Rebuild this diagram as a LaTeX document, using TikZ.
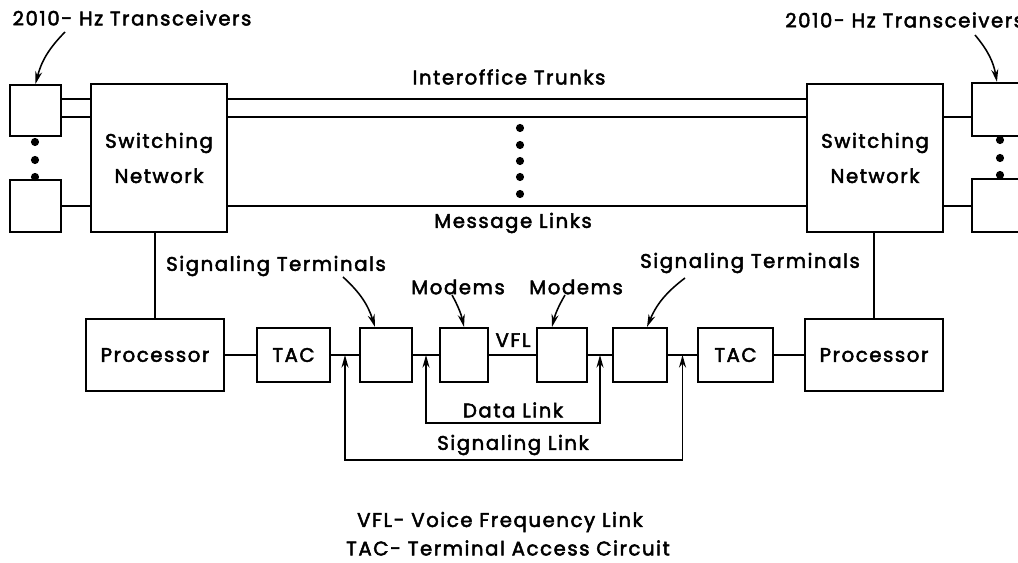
\documentclass[tikz,border=0pt]{standalone}
\usepackage{fontspec}
\setmainfont{Poppins}[LetterSpace=8,FakeBold=2.5]
\usetikzlibrary{arrows.meta,calc}

\tikzset{
  blk/.style={draw,line width=1.5pt,inner sep=0pt,align=center,font=\fontsize{14}{16}\selectfont},
  sz/.style 2 args={minimum width=#1*0.025cm,minimum height=#2*0.025cm},
  wire/.style={line width=1.5pt},
  thinwire/.style={line width=1.1pt},
  ptr/.style={line width=1.1pt,-{Stealth[length=9pt,width=5pt]}},
  lbl/.style={font=\fontsize{14}{16}\selectfont,inner sep=0pt},
  blob/.style={circle,fill,inner sep=0pt,minimum size=5.8pt}
}

\begin{document}
\begin{tikzpicture}[x=0.025cm,y=-0.025cm]
  \useasboundingbox (0,0) rectangle (1018,563);

  % transceivers and switching networks
  \node[blk,sz={51}{51}] (txL1) at (35.5,110.5) {};
  \node[blk,sz={51}{52}] (txL2) at (35.5,206) {};
  \node[blk,sz={58}{53}] (txR1) at (1001,109.5) {};
  \node[blk,sz={58}{53}] (txR2) at (1001,205.5) {};
  \node[blk,sz={136}{148},font=\fontsize{14}{25}\selectfont] (swL) at (159,158) {Switching\\Network};
  \node[blk,sz={136}{148},font=\fontsize{14}{25}\selectfont] (swR) at (875,158) {Switching\\Network};

  \foreach \y [count=\i] in {142,160,177}{
    \node[blob] (dl\i) at (35,\y) {};
  }
  \foreach \y [count=\i] in {140,158,175}{
    \node[blob] (dr\i) at (1000,\y) {};
  }
  \foreach \y [count=\i] in {128,145,161,177,194}{
    \node[blob] (dm\i) at (520,\y) {};
  }

  \draw[wire] (txL1.east |- 0,99) -- (swL.west |- 0,99);
  \draw[wire] (txL1.east |- 0,117) -- (swL.west |- 0,117);
  \draw[wire] (txL2.east |- 0,206) -- (swL.west |- 0,206);
  \foreach \y in {99,117,206}
    \draw[wire] (swL.east |- 0,\y) -- (swR.west |- 0,\y);
  \draw[wire] (swR.east |- 0,117) -- (txR1.west |- 0,117);
  \draw[wire] (swR.east |- 0,206) -- (txR2.west |- 0,206);

  \node[lbl] (trunks) at (509,77) {Interoffice Trunks};
  \node[lbl] (msglinks) at (513,223) {Message Links};

  % signaling chain
  \node[blk,sz={138}{72}] (procL) at (155,355) {Processor};
  \node[blk,sz={73}{54}] (tacL) at (293.5,355) {TAC};
  \node[blk,sz={52}{54}] (stL) at (386,355) {};
  \node[blk,sz={48}{54}] (mdL) at (464,355) {};
  \node[blk,sz={50}{54}] (mdR) at (562,355) {};
  \node[blk,sz={54}{54}] (stR) at (640,355) {};
  \node[blk,sz={75}{54}] (tacR) at (735.5,355) {TAC};
  \node[blk,sz={138}{72}] (procR) at (874,355) {Processor};

  \draw[thinwire] (swL.south -| procL.north) -- (procL.north);
  \draw[thinwire] (swR.south -| procR.north) -- (procR.north);

  \foreach \a/\b in {procL/tacL,tacL/stL,stL/mdL,mdL/mdR,mdR/stR,stR/tacR,tacR/procR}
    \draw[wire] (\a) -- (\b);

  \node[lbl,anchor=base] (vfl) at (513,347) {VFL};

  \coordinate (jA) at ($(tacL.east)!.5!(stL.west)$);
  \coordinate (jB) at ($(stL.east)!.5!(mdL.west)$);
  \coordinate (jC) at ($(mdR.east)!.5!(stR.west)$);
  \coordinate (jD) at ($(stR.east)!.5!(tacR.west)$);
  \coordinate (datY) at (0,423);
  \coordinate (sigY) at (0,460);

  \draw[thinwire,{Stealth[length=9pt,width=5pt]}-{Stealth[length=9pt,width=5pt]}]
    (jB) -- (jB |- datY) -- (jC |- datY) -- (jC);
  \draw[thinwire,{Stealth[length=9pt,width=5pt]}-{Stealth[length=9pt,width=5pt]}]
    (jA) -- (jA |- sigY) -- (jD |- sigY) -- (jD);
  \node[lbl] (datlink) at (513,410) {Data Link};
  \node[lbl] (siglink) at (513,445) {Signaling Link};

  % callouts
  \node[lbl] (lblTxL) at (132,18) {2010- Hz Transceivers};
  \node[lbl,anchor=west] (lblTxR) at (785,20) {2010- Hz Transceivers};
  \node[lbl] (lblStL) at (276,266) {Signaling Terminals};
  \node[lbl] (lblStR) at (750,263) {Signaling Terminals};
  \node[lbl] (lblMdL) at (458,287) {Modems};
  \node[lbl] (lblMdR) at (576,287) {Modems};

  \draw[ptr] ([shift={(-67,14)}]lblTxL.center) to[bend right=15] (txL1.north);
  \draw[ptr] ([shift={(190,15)}]lblTxR.west) to[bend left=15] ([shift={(26,0)}]txR1.north west);
  \draw[ptr] ([shift={(67,11)}]lblStL.center) to[bend left=15] ([shift={(-11,0)}]stL.north);
  \draw[ptr] ([shift={(-6,8)}]lblMdL.center) to[bend left=8] (mdL.north);
  \draw[ptr] ([shift={(-11,8)}]lblMdR.center) to[bend right=8] ([shift={(-10,0)}]mdR.north);
  \draw[ptr] ([shift={(-65,15)}]lblStR.center) to[bend right=15] ([shift={(7,0)}]stR.north);

  % legend
  \node[lbl] (ftVFL) at (500,522) {VFL- Voice Frequency Link};
  \node[lbl] (ftTAC) at (508,548) {TAC- Terminal Access Circuit};
\end{tikzpicture}
\end{document}
